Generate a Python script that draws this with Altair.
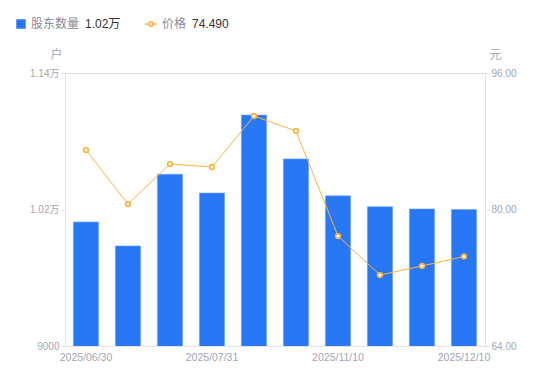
import altair as alt
import pandas as pd

dates = ["2025/06/30", "2025/07/10", "2025/07/20", "2025/07/31", "2025/08/29",
         "2025/09/30", "2025/11/10", "2025/11/20", "2025/11/28", "2025/12/10"]
holders = [10090, 9880, 10510, 10345, 11030, 10645, 10320, 10225, 10205, 10200]
prices = [86.97, 80.64, 85.33, 84.98, 90.96, 89.20, 76.89, 72.32, 73.38, 74.49]
shown_dates = ["2025/06/30", "2025/07/31", "2025/11/10", "2025/12/10"]
left_ticks = [9000, 10200, 11400]
right_ticks = [64, 80, 96]
legend_items = ["股东数量", "1.02万", "价格", "74.490"]

df = pd.DataFrame({"date": dates, "holders": holders, "price": prices})

FONT = "Liberation Sans, Noto Sans CJK SC, sans-serif"
BLUE = "#2878f5"
ORANGE = "#ffb13b"
GRAY = "#a3a6b6"
AXIS_LINE = "#e3e4e8"

x_enc = alt.X("date:N", sort=dates, title=None,
              scale=alt.Scale(paddingInner=0.4, paddingOuter=0.2),
              axis=alt.Axis(values=shown_dates, labelAngle=0, ticks=False,
                            domainColor=AXIS_LINE, labelColor=GRAY, labelFontSize=10.5,
                            labelPadding=6, labelFont=FONT))

bars = alt.Chart(df).mark_bar(color=BLUE, stroke="#6fa3f8", strokeWidth=0.6, clip=True).encode(
    x=x_enc,
    y=alt.Y("holders:Q", scale=alt.Scale(domain=[9000, 11400], nice=False, zero=False),
            axis=alt.Axis(values=left_ticks, orient="left", grid=False,
                          labelExpr="datum.value >= 10000 ? format(datum.value/10000, '.2f') + '万' : format(datum.value, 'd')",
                          domainColor=AXIS_LINE, tickColor=AXIS_LINE, tickSize=4,
                          labelColor=GRAY, labelFontSize=10, labelPadding=2, labelFont=FONT,
                          title="户", titleAngle=0, titleX=-3, titleY=-12, titleAlign="right",
                          titleColor=GRAY, titleFontWeight="normal", titleFontSize=12, titleFont=FONT))
)

line = alt.Chart(df).mark_line(color=ORANGE, strokeWidth=1).encode(
    x=alt.X("date:N", sort=dates),
    y=alt.Y("price:Q", scale=alt.Scale(domain=[64, 96], nice=False, zero=False),
            axis=alt.Axis(values=right_ticks, orient="right", grid=False, format=".2f",
                          domainColor=AXIS_LINE, tickColor=AXIS_LINE, tickSize=4,
                          labelColor=GRAY, labelFontSize=10, labelPadding=2, labelFont=FONT,
                          title="元", titleAngle=0, titleX=4, titleY=-12, titleAlign="left",
                          titleColor=GRAY, titleFontWeight="normal", titleFontSize=12, titleFont=FONT))
)
points = alt.Chart(df).mark_point(shape="circle", filled=True, fill="white", stroke=ORANGE,
                                  strokeWidth=1.6, size=22, opacity=1).encode(
    x=alt.X("date:N", sort=dates),
    y=alt.Y("price:Q", scale=alt.Scale(domain=[64, 96], nice=False, zero=False))
)

def one(txt):
    return pd.DataFrame({"t": [txt]})

leg_sq = alt.Chart(one("a")).mark_square(color=BLUE, size=90, opacity=1).encode(
    x=alt.value(-44), y=alt.value(-49))
leg_t1 = alt.Chart(one(legend_items[0])).mark_text(align="left", baseline="middle", fontSize=12,
                                                   color="#888b99", font=FONT).encode(
    x=alt.value(-34), y=alt.value(-49), text="t:N")
leg_v1 = alt.Chart(one(legend_items[1])).mark_text(align="left", baseline="middle", fontSize=12,
                                                   color="#333333", font=FONT).encode(
    x=alt.value(20), y=alt.value(-49), text="t:N")
leg_ln = alt.Chart(one("b")).mark_rule(color=ORANGE, strokeWidth=1.5).encode(
    x=alt.value(80), x2=alt.value(92), y=alt.value(-49))
leg_pt = alt.Chart(one("c")).mark_point(shape="circle", filled=True, fill="white", stroke=ORANGE,
                                        strokeWidth=1.6, size=20, opacity=1).encode(
    x=alt.value(86), y=alt.value(-49))
leg_t2 = alt.Chart(one(legend_items[2])).mark_text(align="left", baseline="middle", fontSize=12,
                                                   color="#888b99", font=FONT).encode(
    x=alt.value(97), y=alt.value(-49), text="t:N")
leg_v2 = alt.Chart(one(legend_items[3])).mark_text(align="left", baseline="middle", fontSize=12,
                                                   color="#333333", font=FONT).encode(
    x=alt.value(127), y=alt.value(-49), text="t:N")

chart = alt.layer(
    bars, alt.layer(line, points),
    leg_sq, leg_t1, leg_v1, leg_ln, leg_pt, leg_t2, leg_v2
).resolve_scale(y="independent").properties(
    width=420, height=273,
    autosize=alt.AutoSizeParams(type="none"),
    padding={"left": 57, "top": 65, "right": 57, "bottom": 27},
).configure_view(stroke=None).configure(font=FONT)

chart.save("out.html", embed_options={"renderer": "svg", "actions": False})
